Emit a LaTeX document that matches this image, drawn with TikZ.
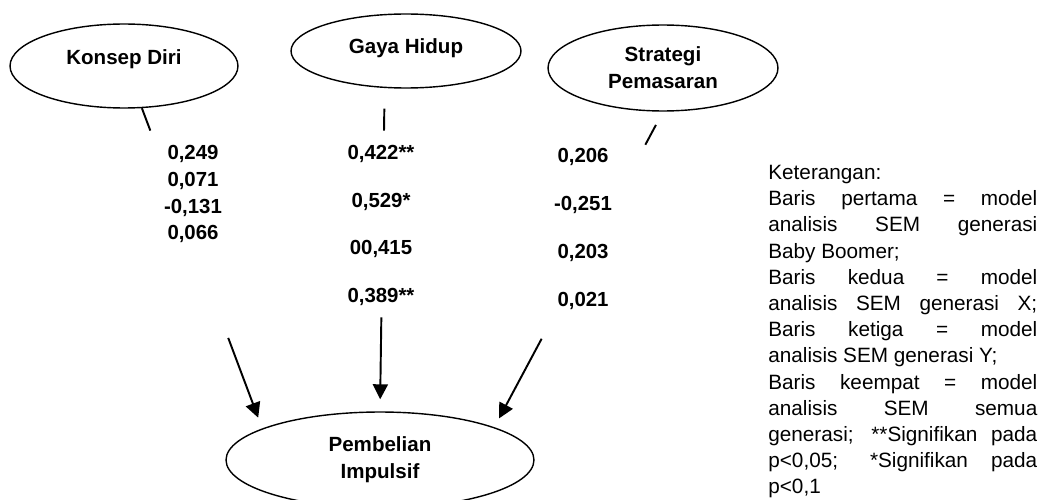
\documentclass[tikz,border=0pt]{standalone}
\usepackage{fontspec}
\setmainfont{Liberation Sans}
\usetikzlibrary{shapes,arrows.meta,positioning}

\begin{document}
\begin{tikzpicture}[x=0.02cm, y=-0.02cm,
    latent/.style={ellipse, draw, line width=0.8pt, inner sep=0pt, align=center,
      font=\fontsize{11.7}{15.3}\selectfont\bfseries},
    coef/.style={align=center, inner sep=0pt, anchor=north},
    effect/.style={line width=1.1pt, -{Triangle[length=0.3cm, width=0.3cm]}}]
  \useasboundingbox (0,0) rectangle (1044,500);

  % latent variables
  \node[latent, minimum width=4.56cm, minimum height=1.68cm,
    text height=8.4pt, text depth=10.2pt] (konsep) at (124,66) {Konsep Diri};
  \node[latent, minimum width=4.6cm, minimum height=1.48cm,
    text height=8.4pt, text depth=5.7pt] (gaya) at (406,51) {Gaya Hidup};
  \node[latent, minimum width=4.6cm, minimum height=1.72cm] (strategi) at (663,68) {Strategi\\Pemasaran};
  \node[latent, minimum width=6.16cm, minimum height=1.92cm] (pembelian) at (380,460) {Pembelian\\Impulsif};

  % paths, broken where the coefficients sit
  \draw[effect, dash pattern=on 0.48cm off 4.43cm on 10cm, shorten >=0.23cm]
    (konsep.-67) -- (pembelian.165);
  \draw[effect, dash pattern=on 0.44cm off 3.74cm on 10cm, shorten <=0.41cm, shorten >=0.24cm]
    (gaya.240) -- (pembelian.north);
  \draw[effect, dash pattern=on 0.45cm off 4.4cm on 10cm, shorten <=0.3cm, shorten >=0.2cm]
    (strategi.south) -- (pembelian.16);

  % coefficients: Baby Boomer, X, Y, semua generasi
  \node[coef, font=\fontsize{11.6}{15.1}\selectfont\bfseries] (kdcoef) at (193,145.4)
    {0,249\\0,071\\-0,131\\0,066};
  \node[coef, font=\fontsize{11.6}{27}\selectfont\bfseries] (ghcoef) at (381,145.4)
    {0,422**\\0,529*\\00,415\\0,389**};
  \node[coef, font=\fontsize{11.6}{27.2}\selectfont\bfseries] (spcoef) at (583,148.4)
    {0,206\\-0,251\\0,203\\0,021};

  % legend
  \node[anchor=north west, inner sep=0pt, text width=5.38cm, align=justify,
    font=\fontsize{11.8}{14.9}\selectfont] (ket) at (768,165) {
    Keterangan:\\
    Baris pertama = model\linebreak analisis SEM generasi\linebreak Baby Boomer;\\
    Baris kedua = model\linebreak analisis SEM generasi X;\linebreak
    Baris ketiga = model\linebreak analisis SEM generasi Y;\\
    Baris keempat = model\linebreak analisis SEM semua\linebreak
    generasi; **Signifikan pada\linebreak p<0,05; *Signifikan pada\linebreak p<0,1
  };
\end{tikzpicture}
\end{document}
